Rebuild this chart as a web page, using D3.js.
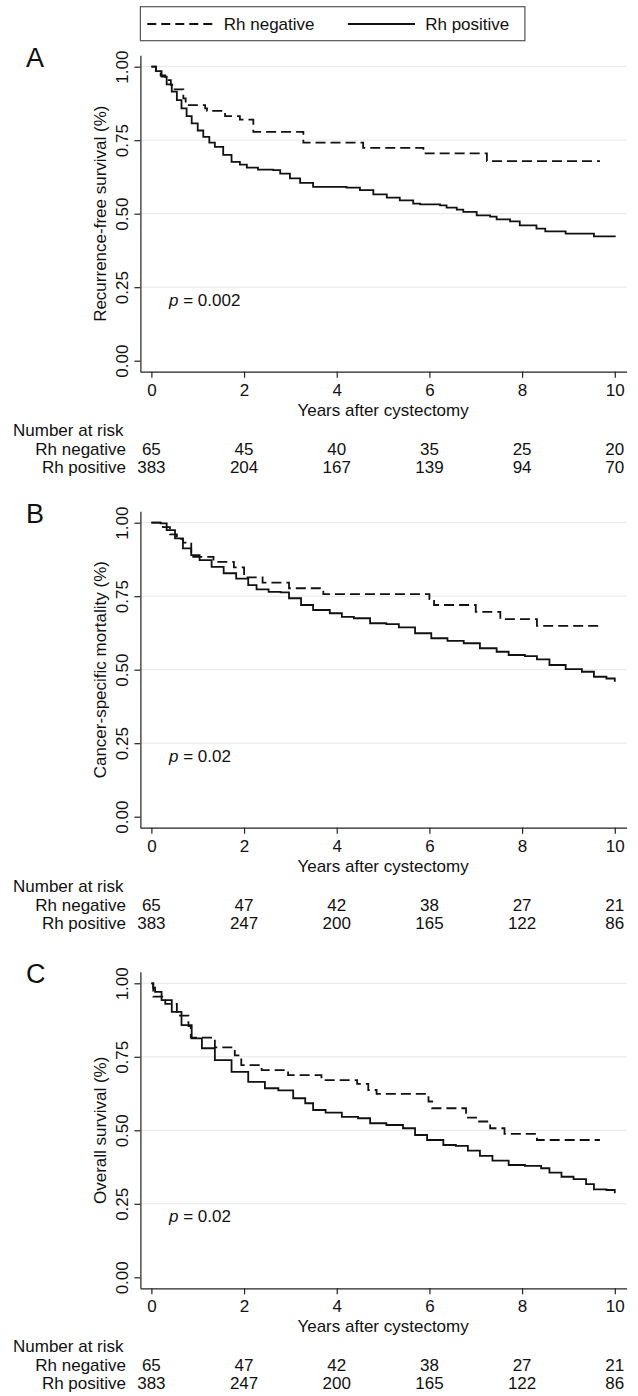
<!DOCTYPE html>
<html lang="en">
<head>
<meta charset="UTF-8" />
<title>Rh status and survival</title>
<style>
  body { margin: 0; background: #fff; }
  svg { display: block; font-family: "Liberation Sans", Arial, Helvetica, sans-serif; }
  .axis path, .axis line { stroke: #222; stroke-width: 1.2; }
  .axis text { font-size: 17px; fill: #111; }
</style>
</head>
<body>
<div class="chart"></div>
<script src="https://d3js.org/d3.v7.min.js"></script>
<script>
// data
const years = [0, 2, 4, 6, 8, 10]
const yTicks = [0, 0.25, 0.5, 0.75, 1]
const panelLetters = ['A', 'B', 'C']
const yTitles = ['Recurrence-free survival (%)', 'Cancer-specific mortality (%)', 'Overall survival (%)']
const pValues = ['0.002', '0.02', '0.02']
const groups = ['Rh negative', 'Rh positive']
const riskNeg = [[65, 45, 40, 35, 25, 20], [65, 47, 42, 38, 27, 21], [65, 47, 42, 38, 27, 21]]
const riskPos = [[383, 204, 167, 139, 94, 70], [383, 247, 200, 165, 122, 86], [383, 247, 200, 165, 122, 86]]

// [years, survival]
const rfsNeg = [[0,1],[0.1,0.985],[0.2,0.97],[0.3,0.954],[0.42,0.938],[0.47,0.923],[0.69,0.892],[0.74,0.869],
  [1.16,0.858],[1.2,0.85],[1.59,0.832],[1.91,0.82],[2.2,0.778],[3.28,0.742],[4.57,0.724],[5.87,0.705],[7.24,0.679],[9.68,0.679]]
const rfsPos = [[0,1],[0.1,0.985],[0.22,0.966],[0.33,0.94],[0.44,0.915],[0.55,0.886],[0.65,0.858],[0.76,0.832],
  [0.87,0.807],[1.0,0.783],[1.12,0.761],[1.25,0.742],[1.37,0.727],[1.55,0.70],[1.73,0.676],[1.91,0.667],[2.06,0.657],
  [2.3,0.65],[2.63,0.648],[2.78,0.636],[2.99,0.62],[3.21,0.605],[3.49,0.591],[4.21,0.589],[4.5,0.58],[4.79,0.566],
  [5.08,0.555],[5.36,0.545],[5.65,0.534],[5.8,0.532],[6.23,0.528],[6.37,0.521],[6.59,0.514],[6.73,0.506],[7.02,0.494],
  [7.31,0.49],[7.45,0.481],[7.74,0.474],[7.95,0.46],[8.31,0.449],[8.5,0.44],[8.94,0.432],[9.55,0.423],[10,0.42]]

const cssNeg = [[0,1],[0.25,0.985],[0.4,0.96],[0.55,0.945],[0.68,0.932],[0.86,0.884],[1.34,0.867],[1.78,0.848],
  [2.0,0.814],[2.4,0.796],[2.97,0.777],[3.71,0.757],[6.0,0.74],[6.1,0.72],[7.0,0.697],[7.53,0.672],[8.32,0.649],[9.68,0.649]]
const cssPos = [[0,1],[0.2,0.998],[0.33,0.975],[0.51,0.947],[0.68,0.913],[0.86,0.89],[1.04,0.873],[1.3,0.85],
  [1.56,0.828],[1.83,0.81],[2.09,0.788],[2.27,0.773],[2.53,0.765],[2.79,0.763],[2.97,0.743],[3.23,0.72],[3.49,0.703],
  [3.85,0.692],[4.11,0.68],[4.37,0.675],[4.72,0.658],[5.07,0.655],[5.34,0.644],[5.69,0.624],[6.04,0.607],[6.39,0.598],
  [6.74,0.59],[7.09,0.573],[7.45,0.561],[7.71,0.55],[8.06,0.546],[8.32,0.535],[8.59,0.516],[8.94,0.502],[9.29,0.493],
  [9.55,0.476],[9.82,0.47],[10,0.459]]

const osNeg = [[0,1],[0.04,0.955],[0.3,0.93],[0.55,0.89],[0.8,0.854],[0.85,0.815],[1.37,0.782],[1.8,0.755],
  [1.94,0.722],[2.38,0.705],[2.95,0.688],[3.67,0.671],[4.44,0.658],[4.68,0.637],[4.86,0.624],[5.98,0.598],[6.06,0.575],
  [6.79,0.543],[7.05,0.53],[7.31,0.507],[7.62,0.488],[8.32,0.467],[9.68,0.467]]
const osPos = [[0,1],[0.04,0.985],[0.08,0.971],[0.22,0.943],[0.44,0.903],[0.65,0.858],[0.87,0.813],[1.09,0.779],
  [1.37,0.739],[1.73,0.699],[2.09,0.665],[2.45,0.643],[2.74,0.636],[3.06,0.609],[3.32,0.592],[3.49,0.569],[3.76,0.56],
  [4.11,0.546],[4.46,0.541],[4.72,0.524],[5.07,0.518],[5.43,0.507],[5.69,0.484],[5.95,0.467],[6.3,0.45],[6.57,0.447],
  [6.83,0.431],[7.09,0.413],[7.36,0.397],[7.71,0.382],[8.06,0.379],[8.41,0.371],[8.59,0.356],[8.85,0.342],[9.11,0.334],
  [9.38,0.317],[9.55,0.299],[9.82,0.297],[10,0.286]]

const curvesNeg = [rfsNeg, cssNeg, osNeg]
const curvesPos = [rfsPos, cssPos, osPos]

// layout
const W = 638, H = 1396
const left = 140.4, right = 626.6
const panelTops = [66.7, 522.7, 983.3]
const plotH = 294
const dashes = '10,5'
const ink = '#111'
const lineW = 1.8

const svg = d3.select('.chart').append('svg').attr('width', W).attr('height', H)

// x scale: 0 -> 151.4, 10 -> 614.8, axis line runs a bit past both ends
const x = d3.scaleLinear().domain([-0.237, 10.255]).range([left, right])

// legend
const lg = svg.append('g')
lg.append('rect').attr('x', left).attr('y', 6.7).attr('width', 384.5).attr('height', 34)
  .attr('fill', '#fff').attr('stroke', '#555').attr('stroke-width', 1.2)
lg.append('line').attr('x1', 147.3).attr('x2', 213.6).attr('y1', 24).attr('y2', 24)
  .attr('stroke', ink).attr('stroke-width', lineW).attr('stroke-dasharray', '9,5')
lg.append('text').attr('x', 223.8).attr('y', 30).style('font-size', '17px').attr('fill', ink).text(groups[0])
lg.append('line').attr('x1', 347.9).attr('x2', 415).attr('y1', 24).attr('y2', 24)
  .attr('stroke', ink).attr('stroke-width', lineW)
lg.append('text').attr('x', 425.2).attr('y', 30).style('font-size', '17px').attr('fill', ink).text(groups[1])

const drawPanel = (i) => {
  const top = panelTops[i]
  const axisY = top + plotH + 11
  const y = d3.scaleLinear().domain([-11 / plotH, 1 + 11.5 / plotH]).range([axisY, top - 11.5])
  const g = svg.append('g')

  // panel letter
  g.append('text').attr('x', 26).attr('y', top).style('font-size', '27px').attr('fill', ink).text(panelLetters[i])

  // gridlines
  g.append('g').selectAll('line')
    .data(yTicks.filter(d => d > 0))
    .join('line')
    .attr('x1', left + 1).attr('x2', right)
    .attr('y1', d => y(d)).attr('y2', d => y(d))
    .attr('stroke', '#e6e6e6').attr('stroke-width', 1)

  // y axis with rotated labels
  const yAxis = d3.axisLeft(y).tickValues(yTicks).tickFormat(d3.format('.2f')).tickSize(6).tickSizeOuter(0)
  const yg = g.append('g').attr('class', 'axis').attr('transform', `translate(${left},0)`).call(yAxis)
  yg.selectAll('text')
    .attr('x', 0).attr('y', -12.4).attr('dy', 0)
    .attr('text-anchor', 'middle')
    .attr('transform', 'rotate(-90)')

  g.append('text')
    .attr('transform', `translate(106,${top + plotH / 2}) rotate(-90)`)
    .attr('text-anchor', 'middle')
    .style('font-size', '17px').attr('fill', ink)
    .text(yTitles[i])

  // x axis
  const xAxis = d3.axisBottom(x).tickValues(years).tickSize(6).tickSizeOuter(0)
  const xg = g.append('g').attr('class', 'axis').attr('transform', `translate(0,${axisY})`).call(xAxis)
  xg.selectAll('text').attr('y', 24).attr('dy', 0)

  g.append('text')
    .attr('x', (x(0) + x(10)) / 2).attr('y', axisY + 44)
    .attr('text-anchor', 'middle').style('font-size', '17px').attr('fill', ink)
    .text('Years after cystectomy')

  // curves
  const line = d3.line().x(d => x(d[0])).y(d => y(d[1])).curve(d3.curveStepAfter)
  g.append('path').datum(curvesNeg[i]).attr('d', line)
    .attr('fill', 'none').attr('stroke', ink).attr('stroke-width', lineW).attr('stroke-dasharray', dashes)
  g.append('path').datum(curvesPos[i]).attr('d', line)
    .attr('fill', 'none').attr('stroke', ink).attr('stroke-width', lineW)

  // p value
  const pt = g.append('text').attr('x', x(0.38)).attr('y', y(0.1875))
    .style('font-size', '17px').attr('fill', ink)
  pt.append('tspan').style('font-style', 'italic').text('p')
  pt.append('tspan').text(' = ' + pValues[i])

  // number at risk table
  const tbl = g.append('g').style('font-size', '17px').attr('fill', ink)
  tbl.append('text').attr('x', 13).attr('y', axisY + 64).text('Number at risk')
  const rows = [riskNeg[i], riskPos[i]]
  rows.forEach((row, r) => {
    const ry = axisY + 83 + r * 18
    tbl.append('text').attr('x', 126).attr('y', ry).attr('text-anchor', 'end').text(groups[r])
    tbl.append('g').selectAll('text')
      .data(row)
      .join('text')
      .attr('x', (d, k) => x(years[k]))
      .attr('y', ry)
      .attr('text-anchor', 'middle')
      .text(d => d)
  })
}

panelTops.forEach((t, i) => drawPanel(i))
</script>
</body>
</html>
